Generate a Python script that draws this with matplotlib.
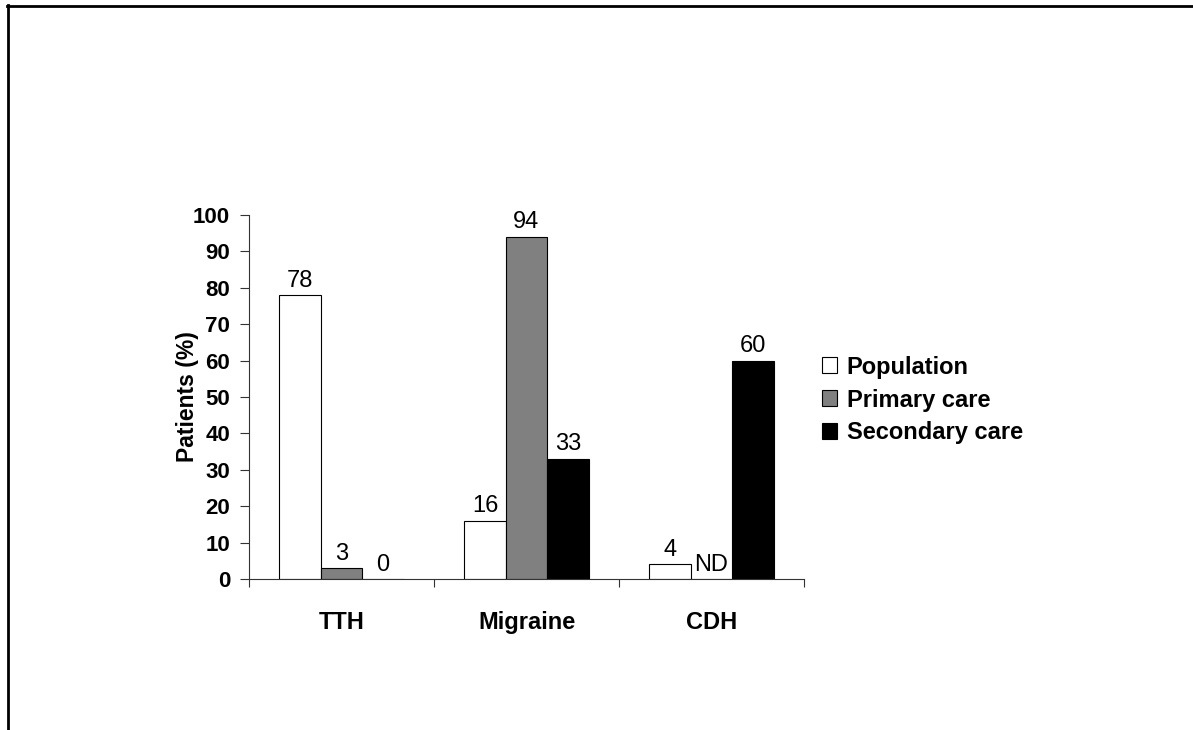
import matplotlib
matplotlib.use("Agg")
import matplotlib.pyplot as plt
from matplotlib.lines import Line2D
from matplotlib.patches import Patch
import numpy as np

plt.rcParams['font.family'] = ['Liberation Sans', 'DejaVu Sans']

categories = ["TTH", "Migraine", "CDH"]
series_names = ["Population", "Primary care", "Secondary care"]
population = [78, 16, 4]
primary_care = [3, 94, 0]
secondary_care = [0, 33, 60]
population_labels = ["78", "16", "4"]
primary_labels = ["3", "94", "ND"]
secondary_labels = ["0", "33", "60"]
y_ticks = [0, 10, 20, 30, 40, 50, 60, 70, 80, 90, 100]

colors = ["white", "#808080", "black"]

W, H = 1193, 730
fig = plt.figure(figsize=(W / 100, H / 100), dpi=100)
ax = fig.add_axes([249 / W, 1 - 579 / H, (804 - 249) / W, (579 - 215) / H])

x = np.arange(len(categories))
bw = 0.224
series = [population, primary_care, secondary_care]
labels = [population_labels, primary_labels, secondary_labels]
for i, (vals, labs) in enumerate(zip(series, labels)):
    bars = ax.bar(x + (i - 1) * bw, vals, bw, color=colors[i], edgecolor="black",
                  linewidth=0.8, label=series_names[i], zorder=2)
    ax.bar_label(bars, labels=labs, padding=2.5, fontsize=17, color="black")

ax.set_xlim(-0.5, len(categories) - 0.5)
ax.set_ylim(0, 100)
ax.set_yticks(y_ticks)
ax.set_yticklabels([str(t) for t in y_ticks], fontsize=16, fontweight="bold")
ax.tick_params(axis="y", direction="out", length=6.5, width=0.8, pad=7, color="#333333")

ax.set_xticks(np.arange(len(categories) + 1) - 0.5)
ax.set_xticklabels([])
ax.tick_params(axis="x", which="major", direction="out", length=6, width=0.8, color="#333333")
ax.set_xticks(x, minor=True)
ax.set_xticklabels(categories, minor=True, fontsize=17, fontweight="bold")
ax.tick_params(axis="x", which="minor", length=0, pad=23)

for s in ["top", "right"]:
    ax.spines[s].set_visible(False)
for s in ["left", "bottom"]:
    ax.spines[s].set_linewidth(0.8)
    ax.spines[s].set_color("#333333")

ax.set_ylabel("Patients (%)", fontsize=16.5, fontweight="bold")
ax.yaxis.set_label_coords(-0.09, 0.5)

handles = [Patch(facecolor=c, edgecolor="black", linewidth=0.8) for c in colors]
leg = fig.legend(handles, series_names, loc="center left",
                 bbox_to_anchor=(822 / W, 1 - 400 / H), frameon=False,
                 prop={"size": 17, "weight": "bold"}, handlelength=0.65,
                 handleheight=0.65, handletextpad=0.4, labelspacing=0.42,
                 borderpad=0, borderaxespad=0)

# page border (top and left)
fig.add_artist(Line2D([7 / W, 1.0], [1 - 6 / H, 1 - 6 / H], color="black",
                      linewidth=2.0, transform=fig.transFigure))
fig.add_artist(Line2D([8 / W, 8 / W], [0.0, 1 - 5 / H], color="black",
                      linewidth=2.0, transform=fig.transFigure))

fig.savefig("out.png", dpi=100)
